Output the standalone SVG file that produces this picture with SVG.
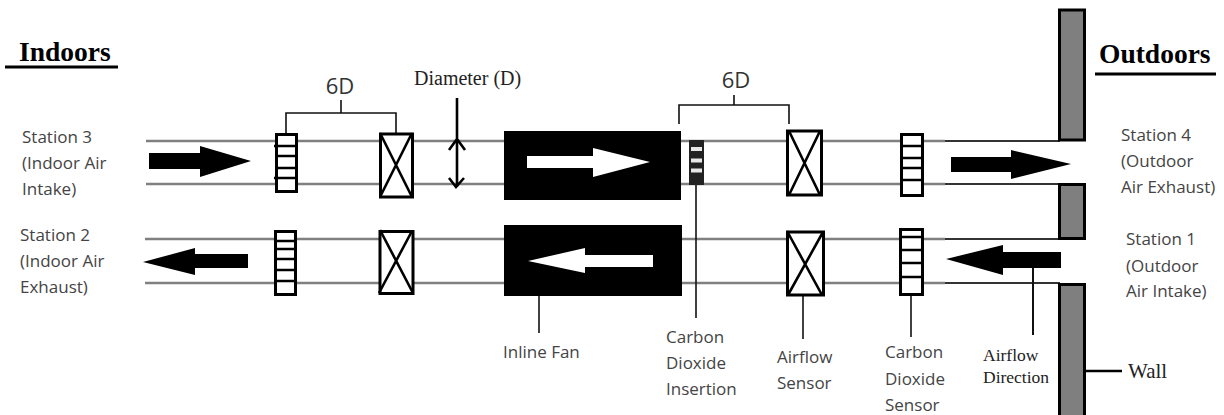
<svg xmlns="http://www.w3.org/2000/svg" width="1224" height="415" viewBox="0 0 1224 415">
<style>
.pipe{stroke:#808080;stroke-width:2.6;fill:none}
.pipeD{stroke:#333;stroke-width:2;fill:none}
.box{fill:#fff;stroke:#000;stroke-width:3}
.in{stroke:#000;stroke-width:2.6;fill:none}
.lead{stroke:#111;stroke-width:1.6;fill:none}
.wall{fill:#7f7f7f;stroke:#000;stroke-width:3}
.sans{font-family:"Open Sans","Noto Sans",sans-serif;font-size:17px;fill:#444}
.serif{font-family:"Liberation Serif",serif;fill:#222}
.head{font-family:"Liberation Serif",serif;font-weight:bold;font-size:27.500px;fill:#000}
.dim{font-family:"Open Sans",sans-serif;font-size:22px;fill:#333;text-anchor:middle}
</style>
<rect width="1224" height="415" fill="#fff"/>
<g id="connectors">
<path class="pipe" d="M146 141H945M146 184H945M145 239H945M145 283H945"/>
<path class="pipeD" d="M945 141H1060M945 184H1060M945 239H1060M945 283H1060"/>
<path class="lead" d="M286 133V113H396V133M341 113V100"/>
<path class="lead" d="M679 124V105H789V124M734 105V95"/>
<path d="M457 98V187M449 150L457 139L465 150M449 178L456 187L464 178" fill="none" stroke="#000" stroke-width="2.600"/>
<path class="lead" d="M539 296V333"/>
<path class="lead" d="M696 185V318"/>
<path class="lead" d="M803 295V339"/>
<path class="lead" d="M911 295V337"/>
<path d="M1033 268V335" fill="none" stroke="#111" stroke-width="2"/>
<path d="M1070 371H1122" fill="none" stroke="#000" stroke-width="2.400"/>
<path d="M5 67H118M1095 74H1216" fill="none" stroke="#000" stroke-width="3"/>
</g>
<g id="wall">
<rect class="wall" x="1059.500" y="10" width="25" height="130"/>
<rect class="wall" x="1059.500" y="184.500" width="25" height="54"/>
<rect class="wall" x="1059.500" y="284.500" width="25" height="135"/>
</g>
<g id="fan-top"><rect x="504" y="131" width="177" height="69" fill="#000"/><polygon fill="#fff" points="527,156 593,156 593,148 650,162 593,177 593,168 527,168"/></g>
<g id="fan-bottom"><rect x="504" y="225" width="178" height="71" fill="#000"/><polygon fill="#fff" points="653,255 585,255 585,248 528,261 585,273 585,267 653,267"/></g>
<g id="grid-s3"><rect class="box" x="276.500" y="134.500" width="20" height="57"/><path class="in" d="M274 146H296M276 156H296M276 168H296M274 178H296"/></g>
<g id="grid-s2"><rect class="box" x="275.500" y="231.500" width="20" height="63"/><path class="in" d="M275 241H295M274 249H295M275 259H295M275 270H295M275 281H295"/></g>
<g id="xbox-tl"><rect class="box" x="380.500" y="134" width="32" height="63"/><path class="in" d="M380 133L412 197M412 133L380 197"/></g>
<g id="xbox-bl"><rect class="box" x="380" y="231.500" width="33" height="62"/><path class="in" d="M380 230L413 293M412 231L379 293"/></g>
<g id="co2-insertion"><rect x="689" y="140" width="15" height="45" fill="#222"/><path d="M691 149H702M691 160.500H702M691 170.500H702" stroke="#e8e8e8" stroke-width="4"/></g>
<g id="xbox-tr"><rect class="box" x="787.500" y="131" width="34" height="64"/><path class="in" d="M789 131L820 195M820 131L789 195"/></g>
<g id="xbox-br"><rect class="box" x="787.500" y="232" width="36" height="63"/><path class="in" d="M787 231L822 295M823 232L788 295"/></g>
<g id="grid-tr"><rect class="box" x="901.500" y="134.500" width="21" height="61"/><path class="in" d="M901 146H923M900 158H923M901 168H923M901 180H923"/></g>
<g id="grid-br"><rect class="box" x="900.500" y="229.500" width="22" height="65"/><path class="in" d="M900 237H923M900 250H923M900 263H923M900 277H923"/></g>
<g id="arrows">
<polygon points="149,153 200,153 200,146 251,161 200,177 200,169 149,169"/>
<polygon points="248,254 195,254 195,248 143,262 195,275 195,268 248,268"/>
<polygon points="951,157 1011,157 1011,150 1071,164 1011,179 1011,172 951,172"/>
<polygon points="1061,252 1003,252 1003,245 946,259 1003,275 1003,268 1061,268"/>
</g>
<g id="labels">
<text class="head" x="19" y="61">Indoors</text>
<text class="head" x="1099" y="63">Outdoors</text>
<text class="dim" x="340" y="94">6D</text>
<text class="dim" x="736" y="88">6D</text>
<text class="serif" x="414" y="85" font-size="20">Diameter (D)</text>
<text class="sans" x="22"><tspan x="22" y="143">Station 3</tspan><tspan x="22" y="169">(Indoor Air</tspan><tspan x="22" y="195">Intake)</tspan></text>
<text class="sans" x="20"><tspan x="20" y="241">Station 2</tspan><tspan x="20" y="267">(Indoor Air</tspan><tspan x="20" y="293">Exhaust)</tspan></text>
<text class="sans" x="1121"><tspan x="1121" y="141">Station 4</tspan><tspan x="1121" y="167">(Outdoor</tspan><tspan x="1121" y="193">Air Exhaust)</tspan></text>
<text class="sans" x="1126"><tspan x="1126" y="245">Station 1</tspan><tspan x="1126" y="272">(Outdoor</tspan><tspan x="1126" y="297">Air Intake)</tspan></text>
<text class="sans" x="503" y="358">Inline Fan</text>
<text class="sans" x="666"><tspan x="666" y="343">Carbon</tspan><tspan x="666" y="369">Dioxide</tspan><tspan x="666" y="395">Insertion</tspan></text>
<text class="sans" x="777"><tspan x="777" y="363">Airflow</tspan><tspan x="777" y="389">Sensor</tspan></text>
<text class="sans" x="885"><tspan x="885" y="358">Carbon</tspan><tspan x="885" y="385">Dioxide</tspan><tspan x="885" y="411">Sensor</tspan></text>
<text class="serif" x="983" font-size="17.500"><tspan x="983" y="361">Airflow</tspan><tspan x="983" y="383">Direction</tspan></text>
<text class="serif" x="1128" y="378" font-size="21">Wall</text>
</g>
</svg>
